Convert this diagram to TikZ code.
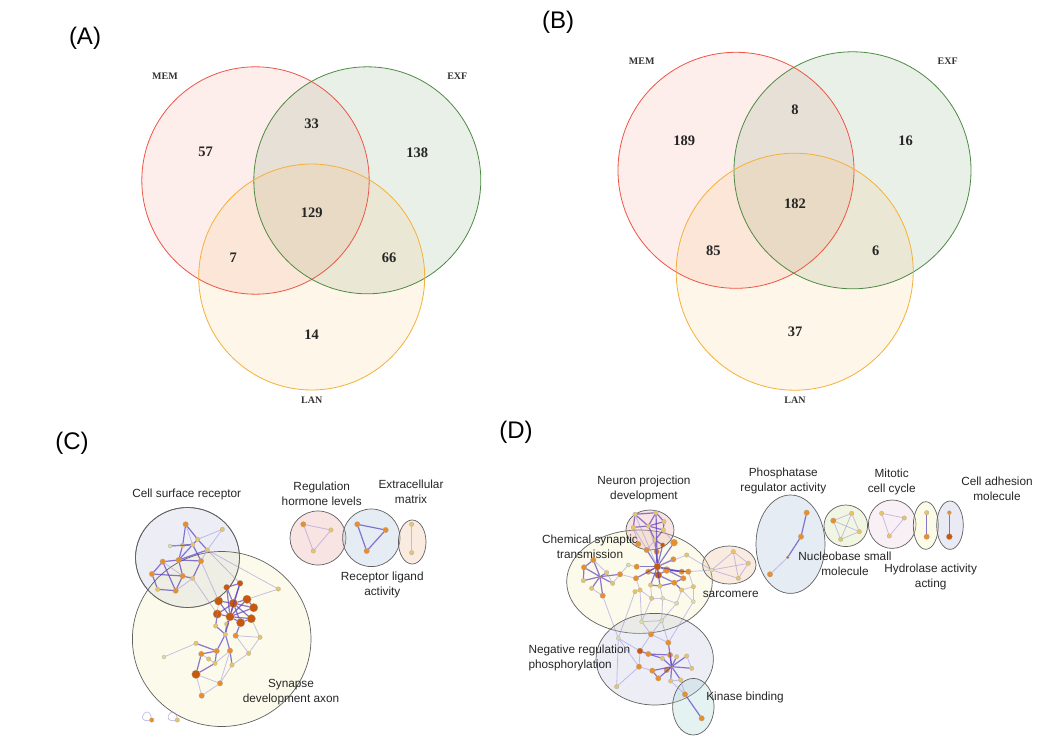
\documentclass[tikz,border=0pt]{standalone}
\usepackage{fontspec}
\setmainfont{Liberation Sans}
\newfontfamily\vf{Liberation Serif}
\definecolor{memc}{HTML}{EE5544}
\definecolor{exfc}{HTML}{4E8A45}
\definecolor{lanc}{HTML}{F5B03A}
\definecolor{ndark}{HTML}{C8580C}
\definecolor{norg}{HTML}{E98E2C}
\definecolor{nyel}{HTML}{E8C468}
\definecolor{nlig}{HTML}{D8DFA6}
\definecolor{estr}{HTML}{5A3EC0}
\definecolor{elig}{HTML}{9C8FDA}
\definecolor{glav}{HTML}{B4B4DA}
\definecolor{gyel}{HTML}{F4F2B0}
\definecolor{gpink}{HTML}{E8A8A2}
\definecolor{gblue}{HTML}{A9C1DC}
\definecolor{gorg}{HTML}{EEC09A}
\definecolor{ggrn}{HTML}{D2E2A0}
\definecolor{gpnk2}{HTML}{EAC4DC}
\definecolor{gteal}{HTML}{A8D4D4}
\begin{document}
\begin{tikzpicture}[x=1pt,y=-1pt,
  vnum/.style={font=\vf\bfseries\fontsize{14.5}{16}\selectfont, inner sep=0pt, text=black!85},
  vlab/.style={font=\vf\bfseries\fontsize{10}{11}\selectfont, inner sep=0pt, text=black!80},
  plab/.style={font=\fontsize{24}{26}\selectfont, inner sep=0pt},
  nlab/.style={font=\fontsize{11.8}{15}\selectfont, text=black!85, align=center, inner sep=0pt},
  grp/.style={draw=black!62, line width=0.7pt},
  nD/.style={circle, draw=black!35, line width=0.2pt, fill=ndark, minimum size=8.5pt, inner sep=0pt},
  nd/.style={circle, draw=black!35, line width=0.2pt, fill=ndark, minimum size=6pt, inner sep=0pt},
  no/.style={circle, draw=black!35, line width=0.2pt, fill=norg, minimum size=5.5pt, inner sep=0pt},
  ny/.style={circle, draw=black!35, line width=0.2pt, fill=nyel, minimum size=4.5pt, inner sep=0pt},
  nl/.style={circle, draw=black!35, line width=0.2pt, fill=nlig, minimum size=4pt, inner sep=0pt},
  ea/.style={draw=estr, line width=1.2pt, opacity=0.7},
  eb/.style={draw=elig, line width=0.8pt, opacity=0.55}]
\useasboundingbox (0,0) rectangle (1053,741);
\fill[white] (0,0) rectangle (1053,741);

% ---------- Panel A ----------
\node[plab] (pA) at (85,38) {(A)};
\fill[memc, fill opacity=0.10] (255.5,180.5) circle[radius=113.7pt];
\fill[exfc, fill opacity=0.12] (367.3,180.3) circle[radius=113.5pt];
\fill[lanc, fill opacity=0.11] (311.7,277) circle[radius=113pt];
\draw[memc, line width=0.8pt] (255.5,180.5) circle[radius=113.7pt];
\draw[exfc, line width=0.8pt] (367.3,180.3) circle[radius=113.5pt];
\draw[lanc, line width=0.8pt] (311.7,277) circle[radius=113pt];
\node[vlab] (amem) at (165,76) {MEM};
\node[vlab] (aexf) at (457.3,76) {EXF};
\node[vlab] (alan) at (311.7,400) {LAN};
\node[vnum] (a57) at (205.7,152.3) {57};
\node[vnum] (a33) at (311.7,123.3) {33};
\node[vnum] (a138) at (417.3,152.3) {138};
\node[vnum] (a129) at (311.7,212.7) {129};
\node[vnum] (a7) at (233.3,257.7) {7};
\node[vnum] (a66) at (389,257.7) {66};
\node[vnum] (a14) at (311.7,335) {14};

% ---------- Panel B ----------
\node[plab] (pB) at (558,22) {(B)};
\fill[memc, fill opacity=0.10] (736,170.3) circle[radius=118pt];
\fill[exfc, fill opacity=0.12] (852.5,170.3) circle[radius=118.5pt];
\fill[lanc, fill opacity=0.11] (794.7,271.7) circle[radius=118.5pt];
\draw[memc, line width=0.8pt] (736,170.3) circle[radius=118pt];
\draw[exfc, line width=0.8pt] (852.5,170.3) circle[radius=118.5pt];
\draw[lanc, line width=0.8pt] (794.7,271.7) circle[radius=118.5pt];
\node[vlab] (bmem) at (641.7,61.7) {MEM};
\node[vlab] (bexf) at (947.7,61.7) {EXF};
\node[vlab] (blan) at (795,400) {LAN};
\node[vnum] (b8) at (795,110) {8};
\node[vnum] (b189) at (684.3,140.7) {189};
\node[vnum] (b16) at (905.7,140.7) {16};
\node[vnum] (b182) at (795,204) {182};
\node[vnum] (b85) at (713.3,251) {85};
\node[vnum] (b6) at (875.7,251) {6};
\node[vnum] (b37) at (795,331.7) {37};

% ---------- Panel C ----------
\node[plab] (pC) at (72,443) {(C)};
\path[grp, fill=glav, fill opacity=0.24] (187.5,557.5) ellipse[x radius=52pt, y radius=50pt];
\path[grp, fill=gyel, fill opacity=0.25] (221.7,639) ellipse[x radius=89.3pt, y radius=87.5pt];
\draw[grp] (187.5,557.5) ellipse[x radius=52pt, y radius=50pt];
\path[grp, fill=gpink, fill opacity=0.3] (318,538) ellipse[x radius=28pt, y radius=27pt];
\path[grp, fill=gblue, fill opacity=0.3] (371.3,537.8) ellipse[x radius=28.7pt, y radius=28.8pt];
\path[grp, fill=gorg, fill opacity=0.3] (412.2,542) ellipse[x radius=13.8pt, y radius=22pt];
\node[nlab] (lcsr) at (186.7,494) {Cell surface receptor};
\node[nlab] (lrhl) at (321.7,494) {Regulation\\hormone levels};
\node[nlab] (lexm) at (411,492) {Extracellular\\matrix};
\node[nlab] (lrla) at (382.3,584.7) {Receptor ligand\\activity};
\node[nlab] (lsda) at (291,692) {Synapse\\development axon};
\begin{scope}[shift={(120,470)}, scale=1/3]
\node[no] (n1) at (197,163) {};
\node[ny] (n2) at (307,178) {};
\node[ny] (n3) at (233,208) {};
\node[nl] (n4) at (150,228) {};
\node[ny] (n5) at (188,226) {};
\node[ny] (n6) at (218,224) {};
\node[ny] (n7) at (262,240) {};
\node[no] (n8) at (243,273) {};
\node[no] (n9) at (176,270) {};
\node[no] (n10) at (128,275) {};
\node[no] (n11) at (96,312) {};
\node[no] (n12) at (188,318) {};
\node[ny] (n13) at (218,325) {};
\node[ny] (n14) at (113,358) {};
\node[no] (n15) at (167,362) {};
\node[nd] (s1) at (320,352) {};
\node[nd] (s2) at (360,340) {};
\node[ny] (s3) at (475,357) {};
\node[nD] (s4) at (296,393) {};
\node[nD] (s5) at (340,400) {};
\node[nD] (s6) at (381,388) {};
\node[nD] (s7) at (401,413) {};
\node[nD] (s8) at (292,432) {};
\node[nD] (s9) at (330,440) {};
\node[nD] (s10) at (362,458) {};
\node[nD] (s11) at (394,446) {};
\node[ny] (s12) at (287,468) {};
\node[ny] (s13) at (320,462) {};
\node[ny] (s14) at (316,493) {};
\node[no] (s15) at (347,497) {};
\node[ny] (s16) at (420,502) {};
\node[ny] (s17) at (228,520) {};
\node[nl] (s18) at (132,561) {};
\node[no] (s19) at (290,543) {};
\node[no] (s20) at (330,542) {};
\node[ny] (s21) at (386,550) {};
\node[no] (s22) at (244,552) {};
\node[ny] (s23) at (266,567) {};
\node[ny] (s24) at (285,580) {};
\node[ny] (s25) at (336,585) {};
\node[nD] (s26) at (228,613) {};
\node[no] (s27) at (300,640) {};
\node[no] (s28) at (245,677) {};
\node[no] (r1) at (550,163) {};
\node[ny] (r2) at (633,180) {};
\node[ny] (r3) at (580,243) {};
\node[no] (r4) at (712,163) {};
\node[no] (r5) at (797,180) {};
\node[no] (r6) at (740,243) {};
\node[ny] (r7) at (875,163) {};
\node[ny] (r8) at (875,248) {};
\node[no, minimum size=4.5pt] (l1) at (95,750) {};
\node[ny] (l2) at (172,750) {};
\end{scope}
\foreach \u/\v in {n1/n3,n1/n5,n3/n6,n3/n7,n5/n6,n5/n9,n6/n8,n7/n9,n8/n9,n9/n10,n10/n11,n11/n12,n9/n12,n12/n13,n11/n14,n14/n15,n12/n15,n10/n15,n6/n9,n8/n13,n4/n6,
  s5/s1,s5/s2,s5/s4,s5/s6,s5/s7,s5/s8,s5/s9,s5/s10,s5/s11,s9/s1,s9/s2,s9/s4,s9/s6,s9/s7,s9/s8,s9/s10,s9/s11,s10/s11,s6/s7,s1/s2,s9/s13,s8/s12,s9/s14,s10/s15,s14/s19,s14/s20,s19/s22,s19/s24,s22/s26,s20/s25,s24/s26,s17/s19,s12/s14,s13/s14,
  r4/r5,r5/r6,r6/r4}
  \draw[ea] (\u) -- (\v);
\foreach \u/\v in {n2/n7,n2/n3,n4/n5,n7/n8,n1/n6,n13/n15,n7/s3,n13/s8,n8/s4,n10/n12,n7/s2,
  s3/s6,s11/s16,s15/s16,s16/s21,s15/s21,s18/s17,s20/s24,s21/s25,s23/s22,s23/s24,s26/s27,s27/s28,s26/s28,s25/s27,s20/s27,s4/s12,
  r1/r2,r2/r3,r3/r1,r7/r8}
  \draw[eb] (\u) -- (\v);
\draw[eb] (l1) to[out=100, in=190, looseness=12] (l1);
\draw[eb] (l2) to[out=100, in=190, looseness=12] (l2);

% ---------- Panel D ----------
\node[plab] (pD) at (516,432) {(D)};
\path[grp, fill=gyel, fill opacity=0.25] (639.5,581.7) ellipse[x radius=72.8pt, y radius=51.7pt];
\path[grp, fill=gpink, fill opacity=0.3] (650,530) ellipse[x radius=24pt, y radius=20pt];
\path[grp, fill=glav, fill opacity=0.24] (654.7,659.2) ellipse[x radius=58.7pt, y radius=45.8pt];
\path[grp, fill=gteal, fill opacity=0.3] (693.3,706.7) ellipse[x radius=20.7pt, y radius=28.3pt];
\path[grp, fill=gorg, fill opacity=0.3] (729.3,565) ellipse[x radius=26.7pt, y radius=19pt];
\path[grp, fill=gblue, fill opacity=0.3] (790.5,544.2) ellipse[x radius=34.5pt, y radius=49.2pt];
\path[grp, fill=ggrn, fill opacity=0.3] (845.8,525.8) ellipse[x radius=21.8pt, y radius=20.8pt];
\path[grp, fill=gpnk2, fill opacity=0.25] (892.2,524.2) ellipse[x radius=23.8pt, y radius=24.2pt];
\path[grp, fill=gyel, fill opacity=0.3] (925.8,525.5) ellipse[x radius=12.5pt, y radius=23.8pt];
\path[grp, fill=glav, fill opacity=0.28] (950,525.2) ellipse[x radius=13.3pt, y radius=24.2pt];
\node[nlab] (lnpd) at (644,489.2) {Neuron projection\\development};
\node[nlab] (lpra) at (783.3,480.8) {Phosphatase\\regulator activity};
\node[nlab] (lmcc) at (891.7,482.2) {Mitotic\\cell cycle};
\node[nlab] (lcam) at (997,489) {Cell adhesion\\molecule};
\node[nlab] (lcst) at (590,546.5) {Chemical synaptic\\transmission};
\node[nlab] (lsar) at (730.7,594) {sarcomere};
\node[nlab] (lnsm) at (845,563.3) {Nucleobase small\\molecule};
\node[nlab] (lhaa) at (930.7,577) {Hydrolase activity\\acting};
\node[nlab, align=left, anchor=west] (lnrp) at (528.3,658.2) {Negative regulation\\phosphorylation};
\node[nlab] (lkb) at (745,697.7) {Kinase binding};
\begin{scope}[shift={(520,450)}, scale=1/3]
\node[ny] (a1) at (345,193) {};
\node[ny] (a2) at (408,188) {};
\node[ny] (a3) at (432,215) {};
\node[ny] (a4) at (385,228) {};
\node[ny] (a5) at (430,240) {};
\node[ny] (a6) at (340,232) {};
\node[ny] (a7) at (405,270) {};
\node[no, minimum size=7pt] (a8) at (462,278) {};
\node[nd, minimum size=4.5pt] (a9) at (428,285) {};
\node[no] (a10) at (355,282) {};
\node[no] (b1) at (380,300) {};
\node[no] (b2) at (410,305) {};
\node[no] (b3) at (460,328) {};
\node[ny] (b4) at (500,315) {};
\node[no] (b5) at (350,350) {};
\node[nd, minimum size=7pt] (b6) at (412,350) {};
\node[nd, minimum size=7pt] (b7) at (415,375) {};
\node[no, minimum size=7pt] (b8) at (440,360) {};
\node[no] (b9) at (385,365) {};
\node[no] (b10) at (348,385) {};
\node[no] (b11) at (463,398) {};
\node[no] (b12) at (485,365) {};
\node[no] (b13) at (505,365) {};
\node[ny] (b14) at (520,410) {};
\node[no] (b15) at (490,385) {};
\node[ny] (b16) at (392,405) {};
\node[ny] (b17) at (420,408) {};
\node[ny] (b18) at (360,420) {};
\node[ny] (b19) at (395,445) {};
\node[nl] (b20) at (428,445) {};
\node[nl] (b21) at (470,460) {};
\node[ny] (b22) at (485,420) {};
\node[nl] (b23) at (520,455) {};
\node[no] (b24) at (300,373) {};
\node[nl] (b25) at (325,345) {};
\node[no] (b26) at (220,330) {};
\node[no] (b27) at (192,352) {};
\node[nd, minimum size=2.5pt] (b28) at (240,380) {};
\node[ny] (b29) at (260,368) {};
\node[ny] (b30) at (190,392) {};
\node[ny] (b31) at (215,415) {};
\node[no] (b32) at (248,437) {};
\node[ny] (b33) at (278,400) {};
\node[ny] (b34) at (345,425) {};
\node[nl] (c1) at (575,360) {};
\node[ny] (c2) at (640,305) {};
\node[ny] (c3) at (685,340) {};
\node[ny] (c4) at (655,385) {};
\node[no] (d1) at (860,188) {};
\node[no] (d2) at (843,260) {};
\node[nd, minimum size=3pt] (d3) at (803,322) {};
\node[no] (d4) at (750,373) {};
\node[no] (e1) at (940,212) {};
\node[ny] (e2) at (995,190) {};
\node[ny] (e3) at (1018,245) {};
\node[ny] (e4) at (962,268) {};
\node[ny] (f1) at (1085,190) {};
\node[ny] (f2) at (1153,204) {};
\node[ny] (f3) at (1108,258) {};
\node[ny] (g1) at (1220,188) {};
\node[no] (g2) at (1220,260) {};
\node[no, minimum size=4pt] (h1) at (1288,188) {};
\node[nd] (h2) at (1288,260) {};
\node[nl] (k1) at (365,515) {};
\node[nl] (k2) at (425,512) {};
\node[no] (k3) at (393,553) {};
\node[nl] (k4) at (295,565) {};
\node[no] (k5) at (445,578) {};
\node[nd] (k6) at (360,603) {};
\node[no] (k7) at (385,612) {};
\node[ny] (k8) at (427,625) {};
\node[no] (k9) at (450,615) {};
\node[ny] (k10) at (470,620) {};
\node[ny] (k11) at (500,618) {};
\node[nd, minimum size=2.5pt] (k12) at (455,650) {};
\node[no] (k13) at (440,660) {};
\node[ny] (k14) at (515,655) {};
\node[no] (k15) at (357,650) {};
\node[no] (k16) at (397,662) {};
\node[no] (k17) at (415,685) {};
\node[ny] (k18) at (482,690) {};
\node[ny] (k19) at (290,710) {};
\node[ny] (k20) at (452,693) {};
\node[no] (m1) at (495,733) {};
\node[no] (m2) at (545,805) {};
\end{scope}
\foreach \u/\v in {a1/a2,a1/a4,a2/a4,a2/a3,a3/a4,a4/a5,a4/a6,a6/a1,a3/a5,a5/a7,a4/a7,a7/a9,a7/b6,a2/b6,
  b6/b1,b6/b2,b6/b3,b6/b5,b6/b7,b6/b8,b6/b9,b6/b10,b6/a8,b6/a9,b6/b12,b6/b16,b6/b17,
  b7/b8,b7/b9,b7/b11,b8/b12,b8/b13,b8/b15,b11/b15,b12/b13,b11/b22,b11/b17,b16/b17,
  b28/b26,b28/b27,b28/b29,b28/b30,b28/b31,b28/b32,b28/b33,b28/b24,b26/b27,b27/b30,
  d1/d2,d2/d3,
  k12/k5,k12/k8,k12/k9,k12/k10,k12/k11,k12/k13,k12/k14,k12/k16,k12/k17,k12/k18,k12/k20,k6/k7,k7/k8,k7/k9,k16/k17,
  g1/g2,h1/h2,m1/m2}
  \draw[ea] (\u) -- (\v);
\foreach \u/\v in {a6/a10,a7/b1,a4/b2,a5/a8,a1/b6,a6/b6,
  b13/b14,b22/b14,b16/b19,b17/b20,b19/b20,b20/b21,b21/b22,b22/b23,b14/b23,b18/b19,b10/b18,b34/b18,b5/b25,b25/b24,b10/b24,b24/b33,
  b29/b33,b31/b32,b26/b29,b6/b4,
  b13/c1,b4/c1,c1/c2,c1/c3,c1/c4,c2/c3,c2/c4,c3/c4,
  b19/k1,b20/k2,b21/k2,b23/k5,b32/k4,b18/k1,b34/k4,
  d3/d4,
  e1/e2,e1/e3,e1/e4,e2/e3,e2/e4,e3/e4,
  f1/f2,f1/f3,f2/f3,
  k6/k3,k3/k5,k3/k1,k1/k2,k2/k5,k4/k6,k4/k15,k15/k16,k6/k15,k19/k15,k19/k4,k11/k14,k18/k20,k20/m1,k18/m1,k3/k2}
  \draw[eb] (\u) -- (\v);
\end{tikzpicture}
\end{document}
